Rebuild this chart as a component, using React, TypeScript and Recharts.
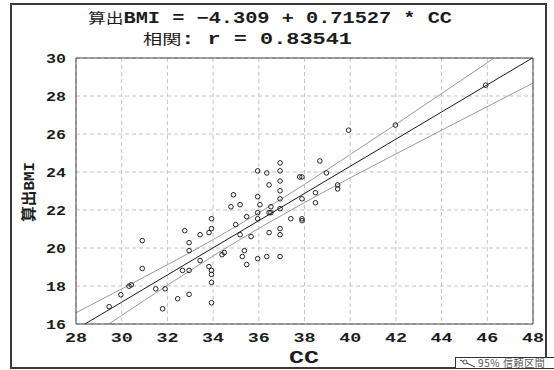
import {
  ComposedChart,
  Scatter,
  Line,
  XAxis,
  YAxis,
  CartesianGrid,
} from 'recharts';

// measured pairs (CC, computed BMI)
const ccValues = [
  29.45, 29.96, 30.32, 30.42, 30.9, 30.9, 31.49, 31.9, 31.79, 32.45,
  32.76, 32.95, 32.95, 32.95, 32.66, 32.95, 33.43, 33.43, 33.82, 33.93,
  33.93, 33.82, 33.93, 33.93, 33.93, 33.93, 34.39, 34.49, 34.78, 34.89,
  34.99, 35.18, 35.18, 35.28, 35.37, 35.47, 35.47, 35.66, 35.95, 35.95,
  35.95, 35.95, 35.95, 36.05, 36.35, 36.45, 36.45, 36.45, 36.35, 36.53,
  36.53, 36.93, 36.93, 36.93, 36.93, 36.93, 36.93, 36.93, 36.93, 36.93,
  37.4, 37.89, 37.89, 37.79, 37.89, 37.89, 38.48, 38.48, 38.67, 38.96,
  39.45, 39.45, 39.93, 41.98, 45.93,
];
const bmiValues = [
  16.91, 17.54, 17.99, 18.06, 20.39, 18.92, 17.85, 17.85, 16.8, 17.33,
  20.91, 20.28, 19.86, 18.82, 18.82, 17.56, 20.7, 19.34, 20.81, 21.02,
  21.54, 19.02, 18.82, 18.61, 18.19, 17.12, 19.65, 19.76, 22.17, 22.8,
  21.23, 22.28, 20.7, 19.55, 19.86, 19.13, 21.65, 20.6, 24.06, 22.7,
  21.86, 21.54, 19.44, 22.28, 23.95, 23.32, 21.86, 20.81, 19.55, 22.17,
  21.86, 24.48, 24.06, 23.53, 23.01, 22.59, 22.07, 21.02, 20.7, 19.55,
  21.54, 21.54, 21.44, 23.74, 23.74, 22.59, 22.91, 22.38, 24.58, 23.95,
  23.32, 23.11, 26.2, 26.47, 28.57,
];

// regression line and 95% confidence band, sampled at the x ticks
const bandCC = [28, 30, 32, 34, 36, 38, 40, 42, 44, 46, 48];
const fitValues = [15.72, 17.15, 18.58, 20.01, 21.44, 22.87, 24.3, 25.73, 27.16, 28.59, 30.02];
const upperValues = [16.59, 17.85, 19.12, 20.44, 21.85, 23.35, 24.92, 26.51, 28.13, 29.75, 31.37];
const lowerValues = [14.85, 16.45, 18.04, 19.58, 21.03, 22.39, 23.69, 24.95, 26.2, 27.44, 28.68];

const xTicks = [28, 30, 32, 34, 36, 38, 40, 42, 44, 46, 48];
const yTicks = [16, 18, 20, 22, 24, 26, 28, 30];

const xLabel = 'CC';
const yLabel = '算出BMI';
const legendText = '95% 信頼区間';

const points = ccValues.map((cc, i) => ({ cc, bmi: bmiValues[i] }));
const band = bandCC.map((cc, i) => ({
  cc,
  fit: fitValues[i],
  upper: upperValues[i],
  lower: lowerValues[i],
}));

const MONO = "'Liberation Mono', 'Noto Sans CJK JP', monospace";
const CJK = "'Noto Sans CJK JP', sans-serif";
const INK = '#1c1c1c';
const AXIS = '#444';

// plot box in page pixels
const PLOT_LEFT = 76;
const PLOT_RIGHT = 533;
const PLOT_TOP = 58;
const PLOT_BOTTOM = 324;

const XTick = ({ x, payload }: any) => (
  <text
    x={x}
    y={PLOT_BOTTOM + 18}
    textAnchor="middle"
    fontFamily={MONO}
    fontWeight="bold"
    fontSize={13}
    fill={INK}
    textLength={22}
    lengthAdjust="spacingAndGlyphs"
  >
    {payload.value}
  </text>
);

const YTick = ({ y, payload }: any) => (
  <text
    x={PLOT_LEFT - 10}
    y={y + 5}
    textAnchor="end"
    fontFamily={MONO}
    fontWeight="bold"
    fontSize={13}
    fill={INK}
    textLength={20}
    lengthAdjust="spacingAndGlyphs"
  >
    {payload.value}
  </text>
);

const Ring = (props: any) => (
  <circle cx={props.cx} cy={props.cy} r={2.3} fill="none" stroke="#111" strokeWidth={0.9} />
);

export default function App() {
  return (
    <div
      style={{
        position: 'absolute',
        left: 0,
        top: 0,
        width: 554,
        height: 370,
        background: '#fff',
        overflow: 'hidden',
      }}
    >
      <div
        style={{
          position: 'absolute',
          left: 10,
          top: 3,
          width: 537,
          height: 366,
          boxSizing: 'border-box',
          border: '2px solid #3a3a3a',
        }}
      />
      <div style={{ position: 'absolute', left: 0, top: 0 }}>
        <ComposedChart
          width={554}
          height={370}
          margin={{ top: PLOT_TOP, right: 554 - PLOT_RIGHT, bottom: 16, left: PLOT_LEFT - 30 }}
        >
          <CartesianGrid stroke="#c4c4c4" strokeDasharray="4 3" />
          <XAxis
            dataKey="cc"
            type="number"
            domain={[28, 48]}
            ticks={xTicks}
            allowDataOverflow
            height={30}
            tickSize={0}
            tickMargin={0}
            tick={<XTick />}
            axisLine={{ stroke: AXIS }}
          />
          <XAxis
            xAxisId="top"
            orientation="top"
            type="number"
            domain={[28, 48]}
            ticks={xTicks}
            allowDataOverflow
            mirror
            tickSize={4}
            tick={false}
            stroke={AXIS}
          />
          <XAxis
            xAxisId="bottomInner"
            type="number"
            domain={[28, 48]}
            ticks={xTicks}
            allowDataOverflow
            mirror
            tickSize={4}
            tick={false}
            axisLine={false}
            stroke={AXIS}
          />
          <YAxis
            type="number"
            domain={[16, 30]}
            ticks={yTicks}
            allowDataOverflow
            width={30}
            tickSize={0}
            tickMargin={0}
            tick={<YTick />}
            axisLine={{ stroke: AXIS }}
          />
          <YAxis
            yAxisId="right"
            orientation="right"
            type="number"
            domain={[16, 30]}
            ticks={yTicks}
            allowDataOverflow
            mirror
            tickSize={4}
            tick={false}
            stroke={AXIS}
          />
          <YAxis
            yAxisId="leftInner"
            type="number"
            domain={[16, 30]}
            ticks={yTicks}
            allowDataOverflow
            mirror
            tickSize={4}
            tick={false}
            axisLine={false}
            stroke={AXIS}
          />
          <Line
            data={band}
            dataKey="upper"
            type="monotone"
            stroke="#9a9a9a"
            strokeWidth={1}
            dot={false}
            isAnimationActive={false}
          />
          <Line
            data={band}
            dataKey="lower"
            type="monotone"
            stroke="#9a9a9a"
            strokeWidth={1}
            dot={false}
            isAnimationActive={false}
          />
          <Line
            data={band}
            dataKey="fit"
            type="linear"
            stroke="#1a1a1a"
            strokeWidth={1}
            dot={false}
            isAnimationActive={false}
          />
          <Scatter data={points} dataKey="bmi" shape={<Ring />} isAnimationActive={false} />
        </ComposedChart>
      </div>
      <svg
        width={554}
        height={370}
        style={{ position: 'absolute', left: 0, top: 0, pointerEvents: 'none' }}
      >
        <text x={88} y={23} fontFamily={MONO} fontWeight="bold" fontSize={16} fill={INK} textLength={364} lengthAdjust="spacingAndGlyphs">
          <tspan fontFamily={CJK} fontWeight="normal" fontSize={14}>算出</tspan>
          BMI = −4.309 +  0.71527 * CC
        </text>
        <text x={143} y={43.5} fontFamily={MONO} fontWeight="bold" fontSize={16} fill={INK} textLength={209} lengthAdjust="spacingAndGlyphs">
          <tspan fontFamily={CJK} fontWeight="normal" fontSize={14}>相関</tspan>
          : r = 0.83541
        </text>
        <text
          x={304}
          y={363}
          textAnchor="middle"
          fontFamily={MONO}
          fontWeight="bold"
          fontSize={19}
          fill={INK}
          textLength={30}
          lengthAdjust="spacingAndGlyphs"
        >
          {xLabel}
        </text>
        <text
          transform="translate(34 192) rotate(-90)"
          textAnchor="middle"
          fontFamily={MONO}
          fontWeight="bold"
          fontSize={15}
          fill={INK}
          textLength={60}
          lengthAdjust="spacingAndGlyphs"
        >
          {yLabel}
        </text>
      </svg>
      <div
        style={{
          position: 'absolute',
          left: 455,
          top: 357,
          width: 110,
          height: 12,
          boxSizing: 'border-box',
          border: '1px solid #333',
          background: '#fff',
          display: 'flex',
          alignItems: 'center',
          fontFamily: CJK,
          fontSize: 10,
          color: '#555',
          whiteSpace: 'nowrap',
        }}
      >
        <svg width={18} height={10} style={{ marginLeft: 3 }}>
          <line x1={1} y1={2} x2={16} y2={9} stroke="#333" strokeWidth={1} />
          <circle cx={6} cy={4} r={2} fill="#fff" stroke="#333" strokeWidth={0.8} />
        </svg>
        <span style={{ marginLeft: 1, lineHeight: '10px', letterSpacing: 0.6 }}>{legendText}</span>
      </div>
    </div>
  );
}
